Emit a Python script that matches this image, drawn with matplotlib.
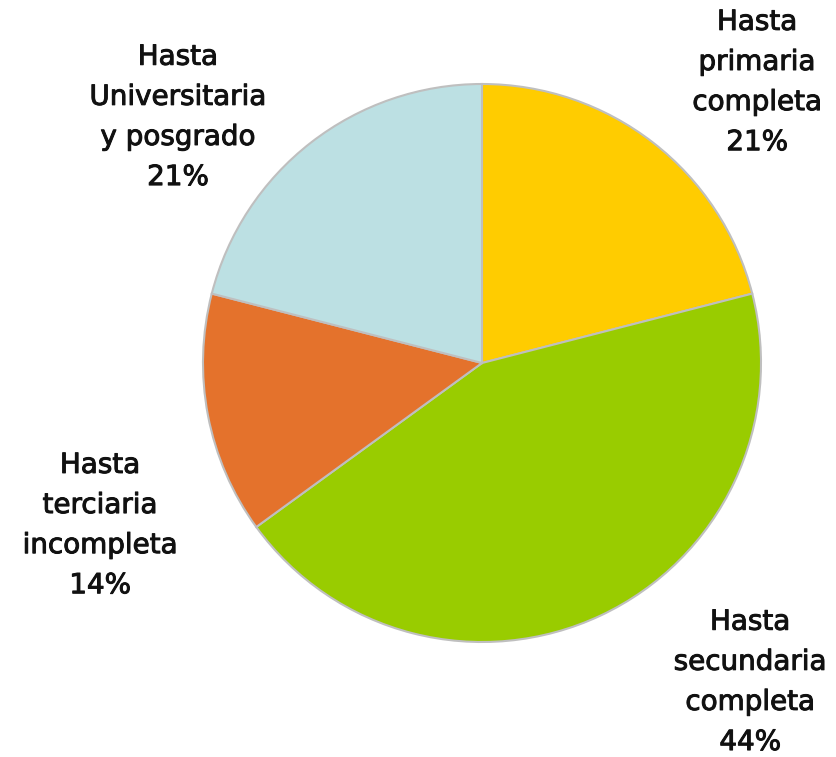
import matplotlib
matplotlib.use("Agg")
import matplotlib.pyplot as plt
import matplotlib.patheffects as pe

categories = ["Hasta\nprimaria\ncompleta", "Hasta\nsecundaria\ncompleta",
              "Hasta\nterciaria\nincompleta", "Hasta\nUniversitaria\ny posgrado"]
values = [21, 44, 14, 21]
colors = ["#FFCC00", "#99CC00", "#E4722C", "#BCE0E3"]
label_pos = [(0.986, 1.007), (0.961, -1.143), (-1.369, -0.581), (-1.09, 0.882)]

W, H = 837, 757
fig = plt.figure(figsize=(W / 100, H / 100), dpi=100)
cx, cy, r = 482, 363, 279
ax = fig.add_axes([(cx - r) / W, (H - cy - r) / H, 2 * r / W, 2 * r / H])
ax.axis("off")

ax.pie(values, colors=colors, startangle=90, counterclock=False, radius=1,
       wedgeprops=dict(edgecolor="#BFBFBF", linewidth=1.5))
ax.set_xlim(-1, 1)
ax.set_ylim(-1, 1)

for cat, v, (x, y) in zip(categories, values, label_pos):
    t = ax.text(x, y, f"{cat}\n{v}%", ha="center", va="center", fontsize=20,
                family="DejaVu Sans", fontweight="normal", linespacing=1.55,
                clip_on=False, color="#111111")
    t.set_path_effects([pe.Stroke(linewidth=0.7, foreground="#111111"), pe.Normal()])

fig.savefig("out.png", dpi=100)
